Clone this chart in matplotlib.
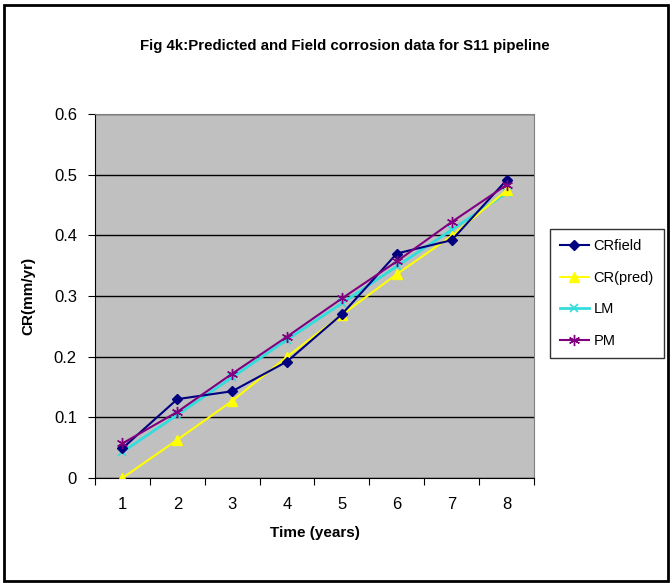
import matplotlib
matplotlib.use("Agg")
import matplotlib.pyplot as plt
from matplotlib.patches import Rectangle

plt.rcParams['font.family'] = ['Liberation Sans', 'DejaVu Sans']

# data
years = [1, 2, 3, 4, 5, 6, 7, 8]
cr_field = [0.049, 0.130, 0.143, 0.192, 0.270, 0.370, 0.392, 0.491]
cr_pred = [0.000, 0.063, 0.127, 0.200, 0.269, 0.336, 0.399, 0.474]
lm = [0.043, 0.104, 0.166, 0.228, 0.288, 0.349, 0.409, 0.470]
pm = [0.057, 0.109, 0.172, 0.233, 0.296, 0.357, 0.422, 0.483]
names = ["CRfield", "CR(pred)", "LM", "PM"]

fig = plt.figure(figsize=(6.72, 5.83), dpi=100)
ax = fig.add_axes([0.1414, 0.1801, 0.6532, 0.6244])
ax.set_facecolor("#C0C0C0")

ax.plot(years, cr_field, color="#000080", marker="D", ms=5, lw=1.5, label=names[0], zorder=5)
ax.plot(years, cr_pred, color="#FFFF00", marker="^", ms=7, lw=1.5, label=names[1], zorder=4)
ax.plot(years, lm, color="#33DDDD", marker="x", ms=6, mew=1.2, lw=2, label=names[2], zorder=3)
ax.plot(years, pm, color="#800080", marker=(6, 2, 0), ms=8, mew=1, lw=1.5, label=names[3], zorder=6)

ax.set_xlim(0.5, 8.5)
ax.set_ylim(0, 0.6)
ax.set_yticks([0, 0.1, 0.2, 0.3, 0.4, 0.5, 0.6])
ax.set_yticklabels(["0", "0.1", "0.2", "0.3", "0.4", "0.5", "0.6"])
ax.yaxis.grid(True, color="black", lw=1)
ax.set_axisbelow(True)

# category axis: ticks sit between categories
ax.set_xticks([x + 0.5 for x in range(0, 9)], minor=False)
ax.set_xticklabels([])
ax.set_xticks(years, minor=True)
ax.set_xticklabels([str(y) for y in years], minor=True)
ax.tick_params(axis="x", which="major", length=5, direction="out", color="black")
ax.tick_params(axis="x", which="minor", length=0, pad=14, labelsize=12)
ax.tick_params(axis="y", length=5, direction="out", labelsize=12, pad=8)

for s in ["top", "right"]:
    ax.spines[s].set_color("#808080")
for s in ["left", "bottom"]:
    ax.spines[s].set_color("black")

ax.set_xlabel("Time (years)", fontweight="bold", fontsize=11, labelpad=10)
ax.set_ylabel("CR(mm/yr)", fontweight="bold", fontsize=11, labelpad=13)

fig.text(0.513, 0.921, "Fig 4k:Predicted and Field corrosion data for S11 pipeline",
         ha="center", va="center", fontsize=10.8, fontweight="bold")

leg = fig.legend(loc="upper left", bbox_to_anchor=(0.818, 0.607), frameon=True,
                 fancybox=False, edgecolor="black", fontsize=10.5, handlelength=2.0,
                 handletextpad=0.3, labelspacing=1.2, borderpad=0.7, borderaxespad=0)
leg.get_frame().set_linewidth(1)

fig.patches.append(Rectangle((0.006, 0.003), 0.988, 0.989, transform=fig.transFigure,
                             fill=False, edgecolor="black", lw=2))

fig.savefig("out.png", dpi=100)
